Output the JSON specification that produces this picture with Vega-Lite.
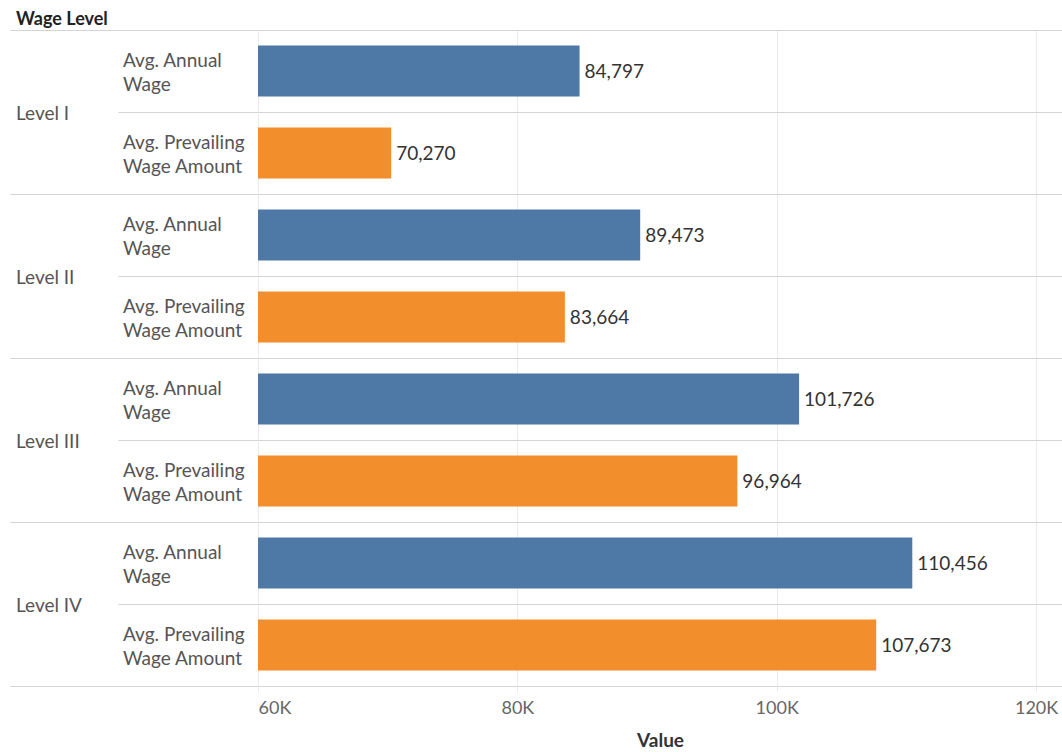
{
  "$schema": "https://vega.github.io/schema/vega-lite/v6.json",
  "padding": {"left": 10, "top": 11, "right": 0, "bottom": 0},
  "title": {
    "text": "Wage Level",
    "anchor": "start",
    "fontSize": 18,
    "fontWeight": "bold",
    "color": "#222222",
    "offset": 1,
    "dx": 6
  },
  "data": {
    "values": [
      {"level": "Level I", "measure": "Avg. Annual Wage", "value": 84797},
      {"level": "Level I", "measure": "Avg. Prevailing Wage Amount", "value": 70270},
      {"level": "Level II", "measure": "Avg. Annual Wage", "value": 89473},
      {"level": "Level II", "measure": "Avg. Prevailing Wage Amount", "value": 83664},
      {"level": "Level III", "measure": "Avg. Annual Wage", "value": 101726},
      {"level": "Level III", "measure": "Avg. Prevailing Wage Amount", "value": 96964},
      {"level": "Level IV", "measure": "Avg. Annual Wage", "value": 110456},
      {"level": "Level IV", "measure": "Avg. Prevailing Wage Amount", "value": 107673}
    ]
  },
  "transform": [
    {"calculate": "datum.level + ' / ' + datum.measure", "as": "row"},
    {"calculate": "datum.measure == 'Avg. Annual Wage' ? 'Avg. Annual\\nWage' : 'Avg. Prevailing\\nWage Amount'", "as": "label"}
  ],
  "spacing": 0,
  "bounds": "flush",
  "resolve": {
    "scale": {"x": "independent", "y": "independent"},
    "axis": {"x": "independent", "y": "independent"}
  },
  "hconcat": [
    {
      "width": 108,
      "height": 656,
      "transform": [{"filter": "datum.measure == 'Avg. Annual Wage'"}],
      "mark": {"type": "text", "align": "left", "baseline": "middle", "dx": 6, "dy": 2, "fontSize": 19, "color": "#555555"},
      "encoding": {
        "y": {
          "field": "level",
          "type": "nominal",
          "sort": ["Level I", "Level II", "Level III", "Level IV"],
          "scale": {"paddingInner": 0, "paddingOuter": 0},
          "axis": {"title": null, "labels": false, "ticks": false, "domain": false, "grid": true, "tickBand": "extent", "gridColor": "#d4d4d4"}
        },
        "x": {"datum": 0, "type": "quantitative", "scale": {"domain": [0, 1]}, "axis": null},
        "text": {"field": "level"}
      }
    },
    {
      "width": 140,
      "height": 656,
      "mark": {"type": "text", "align": "left", "baseline": "middle", "dx": 5, "dy": -10, "fontSize": 19, "lineHeight": 24, "lineBreak": "\n", "color": "#555555"},
      "encoding": {
        "y": {
          "field": "row",
          "type": "nominal",
          "sort": null,
          "scale": {"paddingInner": 0, "paddingOuter": 0},
          "axis": {"title": null, "labels": false, "ticks": false, "domain": false, "grid": true, "tickBand": "extent", "gridColor": "#d4d4d4"}
        },
        "x": {"datum": 0, "type": "quantitative", "scale": {"domain": [0, 1]}, "axis": null},
        "text": {"field": "label"}
      }
    },
    {
      "width": 804,
      "height": 656,
      "encoding": {
        "y": {
          "field": "row",
          "type": "nominal",
          "sort": null,
          "scale": {"paddingInner": 0, "paddingOuter": 0},
          "axis": {"title": null, "labels": false, "ticks": false, "domain": false, "grid": true, "tickBand": "extent", "gridColor": "#d4d4d4"}
        },
        "x": {
          "field": "value",
          "type": "quantitative",
          "scale": {"domain": [60000, 122000], "zero": false, "nice": false, "clamp": true},
          "axis": {
            "title": "Value",
            "titleFontSize": 19,
            "titleFontWeight": "bold",
            "titleColor": "#333333",
            "titlePadding": 14,
            "values": [60000, 80000, 100000, 120000],
            "labelExpr": "format(datum.value / 1000, 'd') + 'K'",
            "labelFlush": true,
            "labelFontSize": 18,
            "labelColor": "#666666",
            "labelPadding": 7,
            "grid": true,
            "gridColor": "#ebebeb",
            "ticks": true,
            "tickSize": 6,
            "tickColor": "#ebebeb",
            "domain": false
          }
        }
      },
      "layer": [
        {
          "mark": {"type": "bar", "height": {"band": 0.62}},
          "encoding": {
            "color": {
              "field": "measure",
              "type": "nominal",
              "scale": {"domain": ["Avg. Annual Wage", "Avg. Prevailing Wage Amount"], "range": ["#4e79a7", "#f28e2b"]},
              "legend": null
            }
          }
        },
        {
          "mark": {"type": "text", "align": "left", "baseline": "middle", "dx": 5, "dy": 1, "fontSize": 19, "color": "#333333"},
          "encoding": {
            "text": {"field": "value", "type": "quantitative", "format": ","}
          }
        }
      ]
    }
  ],
  "config": {
    "font": "Lato",
    "view": {"stroke": null},
    "axis": {"labelFont": "Lato", "titleFont": "Lato"}
  }
}
